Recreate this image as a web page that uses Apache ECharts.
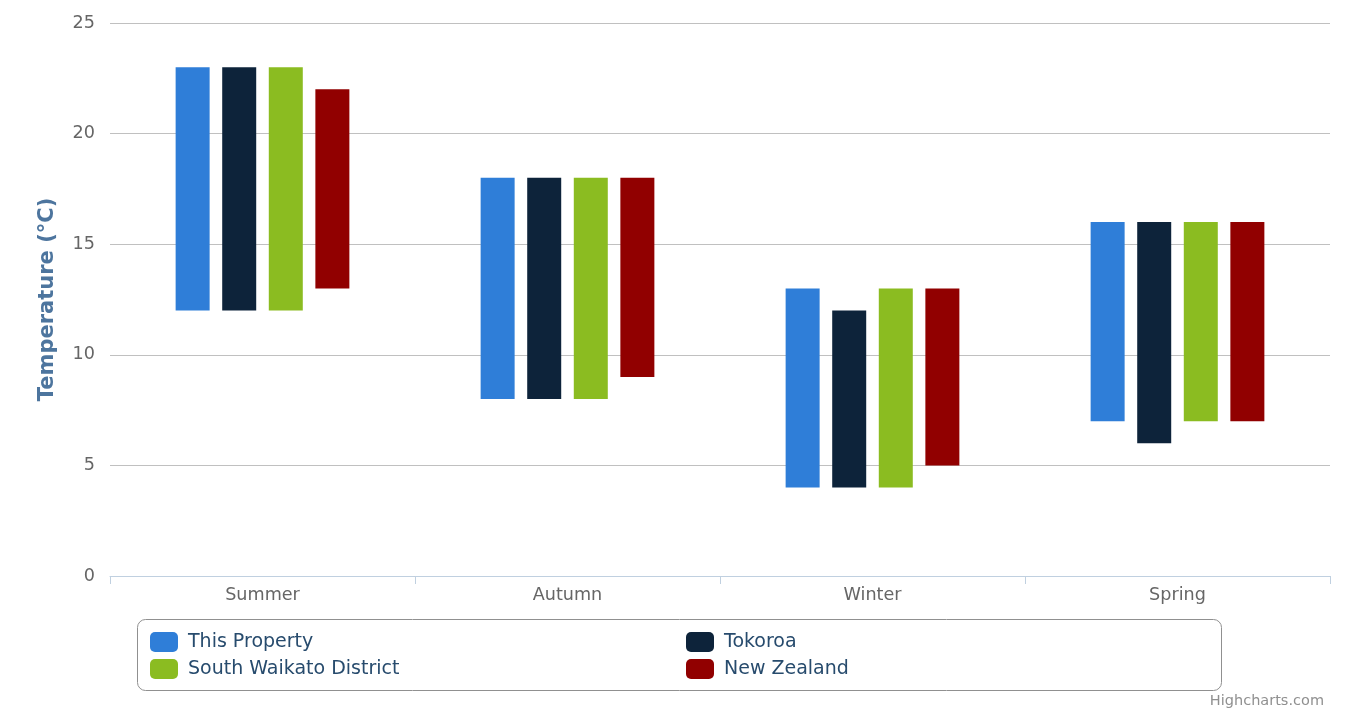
<!DOCTYPE html>
<html lang="en">
<head>
    <meta charset="UTF-8">
    <title>Seasonal Temperature</title>
    <script src="https://cdn.jsdelivr.net/npm/echarts@6/dist/echarts.min.js"></script>
    <style>
        html, body { margin: 0; padding: 0; background: #fff; }
        #cc { width: 1354px; height: 714px; }
    </style>
</head>
<body>
<div id="cc"></div>
<script>
var seasons = ['Summer', 'Autumn', 'Winter', 'Spring'];
var yTicks = [0, 25, 5]; // min, max, step

var propertyLow  = [12, 8, 4, 7];
var propertyHigh = [23, 18, 13, 16];
var tokoroaLow   = [12, 8, 4, 6];
var tokoroaHigh  = [23, 18, 12, 16];
var districtLow  = [12, 8, 4, 7];
var districtHigh = [23, 18, 13, 16];
var nzLow        = [13, 9, 5, 7];
var nzHigh       = [22, 18, 13, 16];

var groups = [
    { name: 'This Property', color: '#2f7ed8', low: propertyLow, high: propertyHigh },
    { name: 'Tokoroa', color: '#0d233a', low: tokoroaLow, high: tokoroaHigh },
    { name: 'South Waikato District', color: '#8bbc21', low: districtLow, high: districtHigh },
    { name: 'New Zealand', color: '#910000', low: nzLow, high: nzHigh }
];

var font = 'DejaVu Sans';
var chart = echarts.init(document.getElementById('cc'));

var series = [];
groups.forEach(function (g, i) {
    // invisible base, then the visible range on top of it
    series.push({
        name: g.name + ' base',
        type: 'bar',
        stack: 's' + i,
        barWidth: 34,
        barGap: '37%',
        silent: true,
        itemStyle: { color: 'transparent' },
        data: g.low
    });
    series.push({
        name: g.name,
        type: 'bar',
        stack: 's' + i,
        barWidth: 34,
        barGap: '37%',
        itemStyle: { color: g.color },
        data: g.high.map(function (h, k) { return h - g.low[k]; })
    });
});

var legendText = { fontFamily: font, fontSize: 19, color: '#274b6d', padding: [3, 0, 0, 5] };

chart.setOption({
    animation: false,
    textStyle: { fontFamily: font },
    title: {
        text: 'Highcharts.com',
        right: 25,
        bottom: 0,
        textStyle: { fontFamily: font, fontSize: 14.5, fontWeight: 'normal', color: '#909090' }
    },
    grid: { left: 110, right: 24, top: 23, bottom: 138, containLabel: false, outerBoundsMode: 'none' },
    legend: [{
        orient: 'vertical',
        left: 150,
        top: 632,
        padding: 0,
        itemWidth: 28,
        itemHeight: 20,
        itemGap: 7,
        icon: 'roundRect',
        textStyle: legendText,
        data: [groups[0].name, groups[2].name]
    }, {
        orient: 'vertical',
        left: 686,
        top: 632,
        padding: 0,
        itemWidth: 28,
        itemHeight: 20,
        itemGap: 7,
        icon: 'roundRect',
        textStyle: legendText,
        data: [groups[1].name, groups[3].name]
    }],
    graphic: [{
        type: 'rect',
        shape: { x: 137.5, y: 619.5, width: 1084, height: 71, r: 8 },
        style: { fill: 'none', stroke: '#909090', lineWidth: 1 },
        silent: true
    }],
    xAxis: {
        type: 'category',
        data: seasons,
        axisLine: { lineStyle: { color: '#c0d0e0', width: 1 } },
        axisTick: { show: true, length: 8, lineStyle: { color: '#c0d0e0' } },
        axisLabel: { fontFamily: font, fontSize: 17.6, color: '#666666', margin: 10 },
        splitLine: { show: false }
    },
    yAxis: {
        type: 'value',
        min: yTicks[0],
        max: yTicks[1],
        interval: yTicks[2],
        name: 'Temperature (°C)',
        nameLocation: 'middle',
        nameGap: 52,
        nameTextStyle: { fontFamily: font, fontSize: 21, fontWeight: 'bold', color: '#4d759e' },
        axisLine: { show: false },
        axisTick: { show: false },
        axisLabel: { fontFamily: font, fontSize: 17.6, color: '#666666', margin: 15, padding: [5, 0, 0, 0] },
        splitLine: { lineStyle: { color: '#c0c0c0', width: 1 } }
    },
    series: series
});
</script>
</body>
</html>
